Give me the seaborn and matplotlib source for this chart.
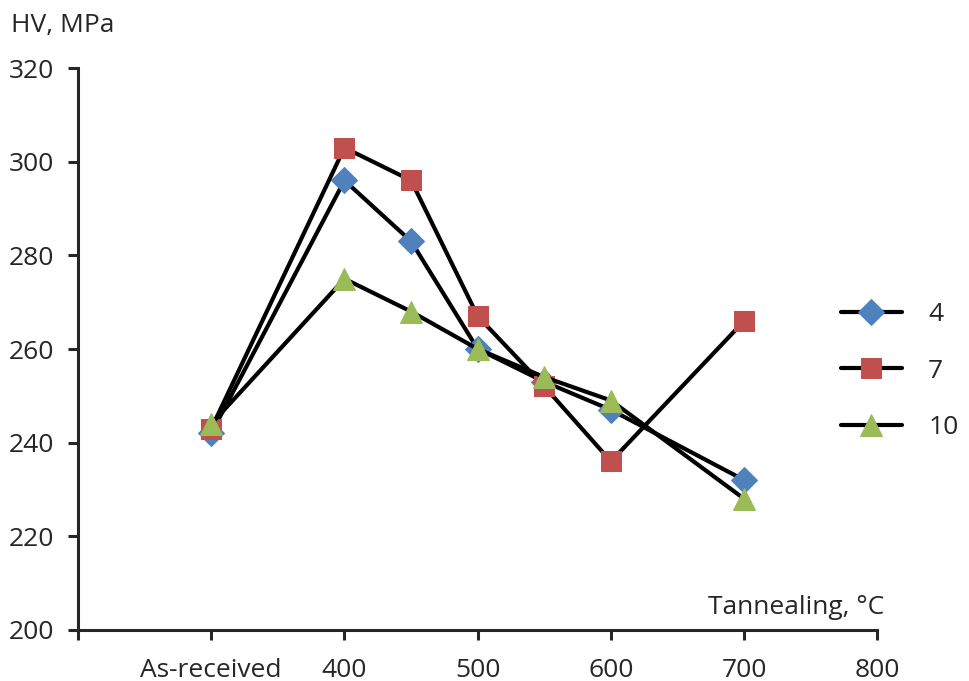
import pandas as pd
import seaborn as sns
import matplotlib.pyplot as plt

# x positions: 300 stands for "As-received"
temps = [300, 400, 450, 500, 550, 600, 700]
hv_4 = [242, 296, 283, 260, 253, 247, 232]
hv_7 = [243, 303, 296, 267, 252, 236, 266]
hv_10 = [244, 275, 268, 260, 254, 249, 228]
series_names = ["4", "7", "10"]
xtick_pos = [300, 400, 500, 600, 700, 800]
xtick_labels = ["As-received", "400", "500", "600", "700", "800"]

sns.set_style("ticks")
plt.rcParams['font.family'] = ['Open Sans', 'DejaVu Sans']
fs = 19

fig = plt.figure(figsize=(9.69, 6.81), dpi=100)
ax = fig.add_axes([0.0805, 0.075, 0.825, 0.825])

styles = [("D", "#4F81BD", 13), ("s", "#C0504D", 14), ("^", "#9BBB59", 16)]
for name, vals, (m, c, ms) in zip(series_names, [hv_4, hv_7, hv_10], styles):
    df = pd.DataFrame({"T": temps, "HV": vals})
    sns.lineplot(data=df, x="T", y="HV", ax=ax, color="black", lw=3,
                 marker=m, markersize=ms, markerfacecolor=c, markeredgecolor=c,
                 label=name)

ax.set_xlim(200, 800)
ax.set_ylim(200, 320)
ax.set_xticks([200] + xtick_pos)
ax.set_xticklabels([""] + xtick_labels)
ax.set_yticks(range(200, 321, 20))
ax.tick_params(labelsize=fs, width=2.2, length=7)
ax.tick_params(axis="x", pad=13)
ax.tick_params(axis="y", pad=10)
for s in ["top", "right"]:
    ax.spines[s].set_visible(False)
for s in ["left", "bottom"]:
    ax.spines[s].set_linewidth(2.2)
ax.set_xlabel("")
ax.set_ylabel("")

fig.text(0.011, 0.962, "HV, MPa", fontsize=fs, va="center", ha="left")
fig.text(0.913, 0.108, "Tannealing, °C", fontsize=fs, va="center", ha="right")

ax.legend(loc="center left", bbox_to_anchor=(0.868, 0.455), bbox_transform=fig.transFigure,
          frameon=False, fontsize=fs, handlelength=2.3, labelspacing=1.2,
          handletextpad=1.0, borderpad=0, borderaxespad=0)

fig.savefig("out.png", dpi=100)
